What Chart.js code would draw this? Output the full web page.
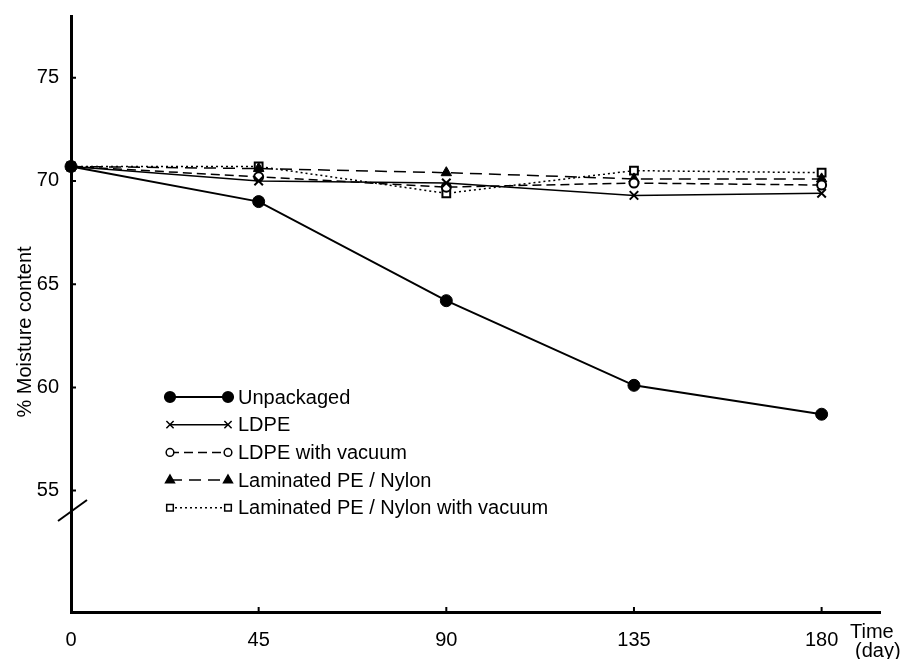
<!DOCTYPE html>
<html>
<head>
<meta charset="utf-8">
<script src="https://cdn.jsdelivr.net/npm/chart.js@4.4.1/dist/chart.umd.min.js"></script>
<style>
  html, body { margin: 0; padding: 0; background: #fff; }
  #grafico { display: block; }
</style>
</head>
<body>
<canvas id="grafico" width="907" height="659"></canvas>
<script>
'use strict';

const DIAS = [0, 45, 90, 135, 180];
const SIN_EMPAQUE = [70.7, 69.0, 64.2, 60.1, 58.7];
const LDPE = [70.7, 70.0, 69.9, 69.3, 69.4];
const LDPE_VACIO = [70.7, 70.2, 69.7, 69.9, 69.8];
const LAMINADO = [70.7, 70.6, 70.4, 70.1, 70.1];
const LAMINADO_VACIO = [70.7, 70.7, 69.4, 70.5, 70.4];

const TICKS_Y = [55, 60, 65, 70, 75];
const TICKS_X = [0, 45, 90, 135, 180];

const NOMBRES = [
    'Unpackaged',
    'LDPE',
    'LDPE with vacuum',
    'Laminated PE / Nylon',
    'Laminated PE / Nylon with vacuum',
];

const FUENTE = "'Liberation Sans', Arial, sans-serif";

const puntos = (serie) => serie.map((v, i) => ({ x: DIAS[i], y: v }));

const base = {
    borderColor: '#000',
    pointBorderColor: '#000',
    clip: false,
    tension: 0,
};

const datasets = [
    { ...base, label: NOMBRES[0], data: puntos(SIN_EMPAQUE), borderWidth: 2,
      pointStyle: 'circle', pointRadius: 6, pointBackgroundColor: '#000', pointBorderWidth: 1 },
    { ...base, label: NOMBRES[1], data: puntos(LDPE), borderWidth: 1.5,
      pointStyle: 'crossRot', pointRadius: 6, pointBorderWidth: 2 },
    { ...base, label: NOMBRES[2], data: puntos(LDPE_VACIO), borderWidth: 1.5, borderDash: [9, 5],
      pointStyle: 'circle', pointRadius: 4.5, pointBackgroundColor: '#fff', pointBorderWidth: 2 },
    { ...base, label: NOMBRES[3], data: puntos(LAMINADO), borderWidth: 1.5, borderDash: [12, 7],
      pointStyle: 'triangle', pointRadius: 6, pointBackgroundColor: '#000', pointBorderWidth: 1 },
    { ...base, label: NOMBRES[4], data: puntos(LAMINADO_VACIO), borderWidth: 1.5, borderDash: [2, 3],
      pointStyle: 'rect', pointRadius: 5.5, pointBackgroundColor: '#fff', pointBorderWidth: 2 },
];

// leyenda, títulos, marcas y corte del eje dibujados a mano
const extras = {
    id: 'extras',
    afterDraw(chart) {
        const { ctx, chartArea, scales } = chart;
        ctx.save();
        ctx.fillStyle = '#000';
        ctx.strokeStyle = '#000';

        // marcas hacia dentro
        ctx.lineWidth = 2;
        ctx.beginPath();
        TICKS_Y.forEach((v) => {
            const y = scales.y.getPixelForValue(v);
            ctx.moveTo(chartArea.left, y);
            ctx.lineTo(chartArea.left + 5, y);
        });
        TICKS_X.slice(1).forEach((v) => {
            const x = scales.x.getPixelForValue(v);
            ctx.moveTo(x, chartArea.bottom);
            ctx.lineTo(x, chartArea.bottom - 5);
        });
        ctx.stroke();

        // título eje y
        ctx.font = `20px ${FUENTE}`;
        ctx.translate(25, 332);
        ctx.rotate(-Math.PI / 2);
        ctx.textAlign = 'center';
        ctx.textBaseline = 'middle';
        ctx.fillText('% Moisture content', 0, 0);
        ctx.setTransform(1, 0, 0, 1, 0, 0);

        // título eje x
        ctx.textAlign = 'left';
        ctx.textBaseline = 'middle';
        ctx.fillText('Time', 850, 632);
        ctx.fillText('(day)', 855, 651);

        // corte del eje
        ctx.lineWidth = 2;
        ctx.beginPath();
        ctx.moveTo(chartArea.left - 13, 521);
        ctx.lineTo(chartArea.left + 16, 500);
        ctx.stroke();

        // leyenda
        const x0 = 170, x1 = 228, y0 = 397, paso = 27.7;
        chart.data.datasets.forEach((ds, i) => {
            const y = y0 + i * paso;
            ctx.lineWidth = ds.borderWidth;
            ctx.setLineDash(ds.borderDash || []);
            ctx.beginPath();
            ctx.moveTo(x0, y);
            ctx.lineTo(x1, y);
            ctx.stroke();
            ctx.setLineDash([]);
            [x0, x1].forEach((px) => {
                ctx.fillStyle = ds.pointBackgroundColor || '#000';
                ctx.strokeStyle = '#000';
                Chart.helpers.drawPoint(ctx, {
                    pointStyle: ds.pointStyle,
                    radius: ds.pointRadius * 0.85,
                    borderWidth: ds.pointBorderWidth,
                    rotation: 0,
                }, px, y);
            });
            ctx.fillStyle = '#000';
            ctx.font = `20px ${FUENTE}`;
            ctx.textAlign = 'left';
            ctx.textBaseline = 'middle';
            ctx.fillText(ds.label, 238, y + 1);
        });
        ctx.restore();
    },
};

new Chart(document.getElementById('grafico'), {
    type: 'line',
    data: { datasets },
    plugins: [extras],
    options: {
        responsive: false,
        animation: false,
        layout: { padding: { top: 13, right: 27, left: 0, bottom: 0 } },
        plugins: {
            legend: { display: false },
            tooltip: { enabled: false },
        },
        scales: {
            x: {
                type: 'linear',
                min: 0,
                max: 194,
                afterBuildTicks: (s) => { s.ticks = TICKS_X.map((v) => ({ value: v })); },
                afterFit: (s) => { s.height = 47; },
                border: { color: '#000', width: 3 },
                grid: { display: false },
                ticks: { color: '#000', font: { family: FUENTE, size: 20 }, padding: 8, maxRotation: 0 },
            },
            y: {
                min: 49.12,
                max: 77.99,
                afterBuildTicks: (s) => { s.ticks = TICKS_Y.map((v) => ({ value: v })); },
                afterFit: (s) => { s.width = 71; },
                border: { color: '#000', width: 3 },
                grid: { display: false },
                ticks: { color: '#000', font: { family: FUENTE, size: 20 }, padding: 4 },
            },
        },
    },
});
</script>
</body>
</html>
